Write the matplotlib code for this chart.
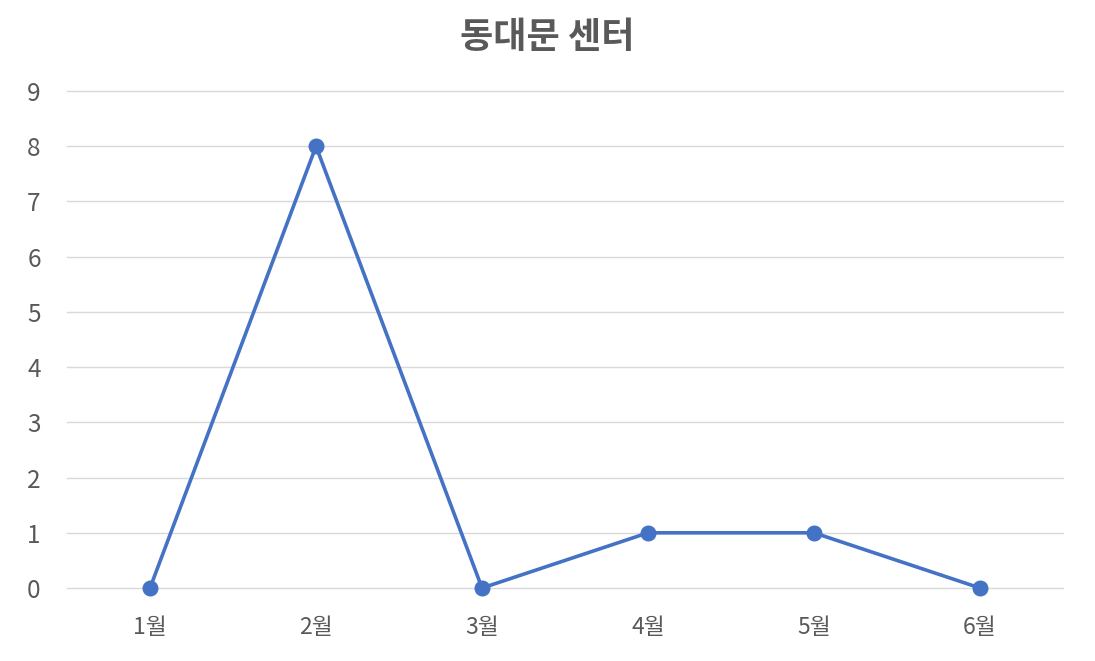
import matplotlib

matplotlib.use("Agg")
import matplotlib.pyplot as plt

plt.rcParams["font.family"] = ["Noto Sans CJK KR", "DejaVu Sans"]

# Chart data
months = ["1월", "2월", "3월", "4월", "5월", "6월"]
counts = [0, 8, 0, 1, 1, 0]
title = "동대문 센터"

_LINE_COLOR = "#4472C4"
_GRID_COLOR = "#D9D9D9"
_TEXT_COLOR = "#595959"

fig = plt.figure(figsize=(10.95, 6.61), dpi=100)
ax = fig.add_axes([0.0612, 0.1104, 0.9096, 0.7519])

x = list(range(len(months)))
ax.plot(x, counts, color=_LINE_COLOR, linewidth=2.6, marker="o",
        markersize=10.5, zorder=3, clip_on=False)

ax.set_xlim(-0.5, len(months) - 0.5)
ax.set_ylim(0, 9)
ax.set_yticks(range(0, 10))
ax.set_xticks(x)
ax.set_xticklabels(months)
ax.grid(axis="y", color=_GRID_COLOR, linewidth=1)
for line in ax.get_ygridlines():
    line.set_clip_on(False)
ax.set_axisbelow(True)
for spine in ax.spines.values():
    spine.set_visible(False)
ax.tick_params(length=0, colors=_TEXT_COLOR)
ax.tick_params(axis="y", pad=19, labelsize=17.5)
ax.tick_params(axis="x", pad=20, labelsize=16.5)

fig.text(0.5, 0.944, title, ha="center", va="center", fontsize=26,
         fontweight="bold", color=_TEXT_COLOR)

fig.savefig("out.png", dpi=100)
